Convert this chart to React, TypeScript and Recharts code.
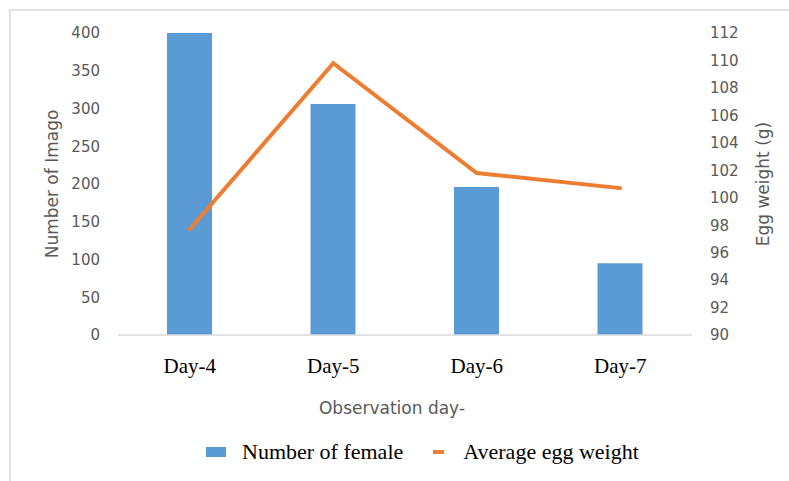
import { ComposedChart, Bar, Line, XAxis, YAxis, Legend } from 'recharts'

const days = ['Day-4', 'Day-5', 'Day-6', 'Day-7']
const femaleCounts = [400, 306, 196, 95]
const eggWeights = [97.7, 109.8, 101.8, 100.7]
const leftTicks = [0, 50, 100, 150, 200, 250, 300, 350, 400]
const rightTicks = [90, 92, 94, 96, 98, 100, 102, 104, 106, 108, 110, 112]

const data = days.map((day, i) => ({
  day,
  female: femaleCounts[i],
  egg: eggWeights[i],
}))

const BLUE = '#5b9bd5'
const ORANGE = '#ed7d31'
const SANS = '"DejaVu Sans", sans-serif'
const SERIF = '"Liberation Serif", "Times New Roman", serif'

// rotated axis title, placed inside the axis box recharts hands us
function SideTitle({ viewBox, value, dx }: { viewBox?: any; value: string; dx: number }) {
  if (!viewBox) return null
  const cx = viewBox.x + dx
  const cy = viewBox.y + viewBox.height / 2
  return (
    <text
      x={cx}
      y={cy}
      transform={`rotate(-90, ${cx}, ${cy})`}
      textAnchor="middle"
      dominantBaseline="central"
      fill="#595959"
      fontFamily={SANS}
      fontSize={17}
    >
      {value}
    </text>
  )
}

function BottomTitle({ viewBox, value }: { viewBox?: any; value: string }) {
  if (!viewBox) return null
  return (
    <text
      x={viewBox.x + viewBox.width / 2 - 13}
      y={viewBox.y + 73}
      textAnchor="middle"
      dominantBaseline="central"
      fill="#595959"
      fontFamily={SANS}
      fontSize={17}
    >
      {value}
    </text>
  )
}

function LegendRow({ payload }: { payload?: any[] }) {
  if (!payload) return null
  // bar entry first, like the original
  const items = [...payload].sort((a, b) => (a.type === 'line' ? 1 : 0) - (b.type === 'line' ? 1 : 0))
  return (
    <div style={{ display: 'flex', alignItems: 'center', paddingLeft: 206, fontFamily: SERIF, fontSize: 22, color: '#000' }}>
      {items.map((entry, i) => (
        <div key={entry.value} style={{ display: 'flex', alignItems: 'center', marginLeft: i === 0 ? 0 : 30 }}>
          {entry.type === 'line' ? (
            <span style={{ width: 11, height: 4, background: entry.color, marginRight: 19 }} />
          ) : (
            <span style={{ width: 20, height: 10, background: entry.color, marginRight: 16 }} />
          )}
          <span>{entry.value}</span>
        </div>
      ))}
    </div>
  )
}

export default function App() {
  return (
    <div style={{ position: 'absolute', left: 0, top: 0, width: 789, height: 481, overflow: 'hidden', background: '#fff' }}>
      <div
        style={{
          position: 'absolute',
          left: 9,
          top: 9,
          width: 790,
          height: 480,
          borderLeft: '2px solid #e2e2e2',
          borderTop: '2px solid #e2e2e2',
        }}
      />
      <ComposedChart
        width={789}
        height={481}
        data={data}
        margin={{ top: 33, right: 0, bottom: 86, left: 0 }}
        style={{ position: 'absolute', left: 0, top: 0 }}
      >
        <XAxis
          dataKey="day"
          height={60}
          axisLine={{ stroke: '#d9d9d9', strokeWidth: 1.5 }}
          tickLine={false}
          tickMargin={17}
          tick={{ fill: '#000', fontFamily: SERIF, fontSize: 21 }}
          label={<BottomTitle value="Observation day-" />}
        />
        <YAxis
          yAxisId="left"
          width={118}
          domain={[0, 400]}
          ticks={leftTicks}
          axisLine={false}
          tickLine={false}
          tickMargin={12}
          tick={{ fill: '#595959', fontFamily: SANS, fontSize: 15 }}
          label={<SideTitle value="Number of Imago" dx={52} />}
        />
        <YAxis
          yAxisId="right"
          orientation="right"
          width={97}
          domain={[90, 112]}
          ticks={rightTicks}
          axisLine={false}
          tickLine={false}
          tickMargin={12}
          tick={{ fill: '#595959', fontFamily: SANS, fontSize: 15 }}
          label={<SideTitle value="Egg weight (g)" dx={71} />}
        />
        <Legend
          verticalAlign="middle"
          wrapperStyle={{ top: 439, left: 0, width: 789 }}
          content={<LegendRow />}
        />
        <Bar
          yAxisId="left"
          dataKey="female"
          name="Number of female"
          fill={BLUE}
          barSize={45}
          legendType="square"
          isAnimationActive={false}
        />
        <Line
          yAxisId="right"
          dataKey="egg"
          name="Average egg weight"
          type="linear"
          stroke={ORANGE}
          strokeWidth={4}
          strokeLinecap="round"
          dot={false}
          legendType="line"
          isAnimationActive={false}
        />
      </ComposedChart>
    </div>
  )
}
